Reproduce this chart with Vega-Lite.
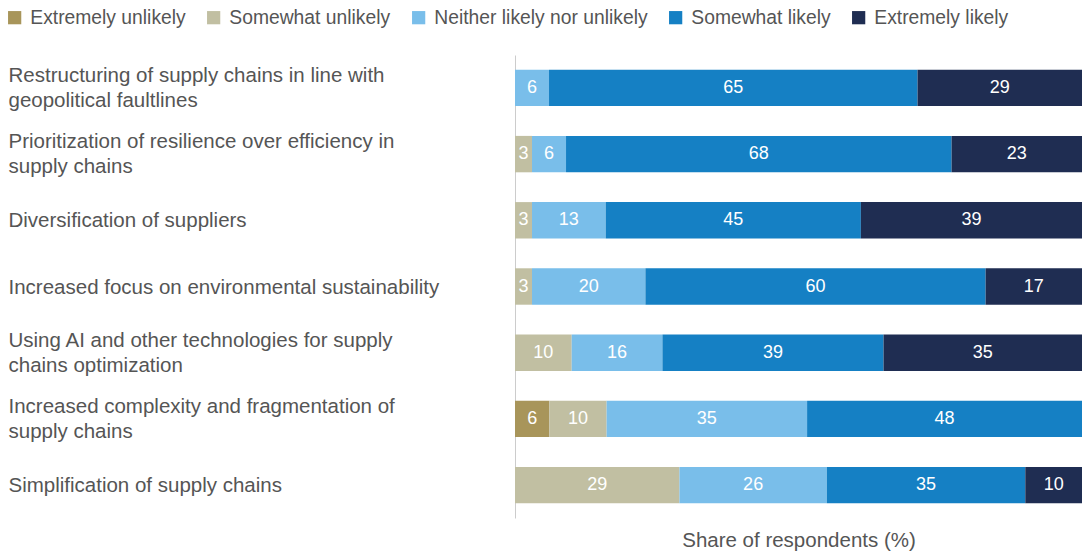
{
  "$schema": "https://vega.github.io/schema/vega-lite/v6.json",
  "width": 567,
  "height": 463,
  "autosize": {"type": "none"},
  "padding": {"left": 515, "top": 55, "right": 0, "bottom": 35},
  "background": "white",
  "config": {
    "view": {"stroke": null},
    "font": "Liberation Sans",
    "text": {"font": "Liberation Sans"}
  },
  "data": {
    "values": [
      {"item": "Restructuring of supply chains in line with|geopolitical faultlines", "response": "Neither likely nor unlikely", "k": 3, "value": 6},
      {"item": "Restructuring of supply chains in line with|geopolitical faultlines", "response": "Somewhat likely", "k": 4, "value": 65},
      {"item": "Restructuring of supply chains in line with|geopolitical faultlines", "response": "Extremely likely", "k": 5, "value": 29},
      {"item": "Prioritization of resilience over efficiency in|supply chains", "response": "Somewhat unlikely", "k": 2, "value": 3},
      {"item": "Prioritization of resilience over efficiency in|supply chains", "response": "Neither likely nor unlikely", "k": 3, "value": 6},
      {"item": "Prioritization of resilience over efficiency in|supply chains", "response": "Somewhat likely", "k": 4, "value": 68},
      {"item": "Prioritization of resilience over efficiency in|supply chains", "response": "Extremely likely", "k": 5, "value": 23},
      {"item": "Diversification of suppliers", "response": "Somewhat unlikely", "k": 2, "value": 3},
      {"item": "Diversification of suppliers", "response": "Neither likely nor unlikely", "k": 3, "value": 13},
      {"item": "Diversification of suppliers", "response": "Somewhat likely", "k": 4, "value": 45},
      {"item": "Diversification of suppliers", "response": "Extremely likely", "k": 5, "value": 39},
      {"item": "Increased focus on environmental sustainability", "response": "Somewhat unlikely", "k": 2, "value": 3},
      {"item": "Increased focus on environmental sustainability", "response": "Neither likely nor unlikely", "k": 3, "value": 20},
      {"item": "Increased focus on environmental sustainability", "response": "Somewhat likely", "k": 4, "value": 60},
      {"item": "Increased focus on environmental sustainability", "response": "Extremely likely", "k": 5, "value": 17},
      {"item": "Using AI and other technologies for supply|chains optimization", "response": "Somewhat unlikely", "k": 2, "value": 10},
      {"item": "Using AI and other technologies for supply|chains optimization", "response": "Neither likely nor unlikely", "k": 3, "value": 16},
      {"item": "Using AI and other technologies for supply|chains optimization", "response": "Somewhat likely", "k": 4, "value": 39},
      {"item": "Using AI and other technologies for supply|chains optimization", "response": "Extremely likely", "k": 5, "value": 35},
      {"item": "Increased complexity and fragmentation of|supply chains", "response": "Extremely unlikely", "k": 1, "value": 6},
      {"item": "Increased complexity and fragmentation of|supply chains", "response": "Somewhat unlikely", "k": 2, "value": 10},
      {"item": "Increased complexity and fragmentation of|supply chains", "response": "Neither likely nor unlikely", "k": 3, "value": 35},
      {"item": "Increased complexity and fragmentation of|supply chains", "response": "Somewhat likely", "k": 4, "value": 48},
      {"item": "Simplification of supply chains", "response": "Somewhat unlikely", "k": 2, "value": 29},
      {"item": "Simplification of supply chains", "response": "Neither likely nor unlikely", "k": 3, "value": 26},
      {"item": "Simplification of supply chains", "response": "Somewhat likely", "k": 4, "value": 35},
      {"item": "Simplification of supply chains", "response": "Extremely likely", "k": 5, "value": 10}
    ]
  },
  "transform": [
    {"stack": "value", "groupby": ["item"], "sort": [{"field": "k", "order": "ascending"}], "offset": "normalize", "as": ["x0", "x1"]},
    {"calculate": "(datum.x0 + datum.x1) / 2", "as": "xm"}
  ],
  "encoding": {
    "y": {
      "field": "item",
      "type": "nominal",
      "sort": null,
      "scale": {"paddingInner": 0.45, "paddingOuter": 0.222},
      "axis": {
        "title": null,
        "ticks": false,
        "domain": true,
        "domainColor": "#cccccc",
        "domainWidth": 1,
        "labelAlign": "left",
        "labelPadding": 507,
        "labelLimit": 500,
        "labelFontSize": 20.5,
        "labelColor": "#555555",
        "labelLineHeight": 25,
        "labelOffset": {"condition": {"test": "indexof(datum.value, '|') >= 0", "value": -12}, "value": 1},
        "labelExpr": "split(datum.label, '|')"
      }
    }
  },
  "layer": [
    {
      "mark": {"type": "bar"},
      "encoding": {
        "x": {
          "field": "x0",
          "type": "quantitative",
          "scale": {"domain": [0, 1], "nice": false},
          "axis": {
            "title": "Share of respondents (%)",
            "labels": false,
            "ticks": false,
            "domain": false,
            "grid": false,
            "titleFontSize": 20.5,
            "titleFontWeight": "normal",
            "titleColor": "#555555",
            "titlePadding": 12
          }
        },
        "x2": {"field": "x1"},
        "color": {
          "field": "response",
          "type": "nominal",
          "scale": {
            "domain": ["Extremely unlikely", "Somewhat unlikely", "Neither likely nor unlikely", "Somewhat likely", "Extremely likely"],
            "range": ["#a8955a", "#c1bfa2", "#79beea", "#1580c4", "#1f2d52"]
          },
          "legend": {
            "title": null,
            "orient": "none",
            "direction": "horizontal",
            "legendX": -510,
            "legendY": -47,
            "symbolType": "square",
            "symbolSize": 175,
            "symbolStrokeWidth": 0,
            "labelFontSize": 19.3,
            "labelColor": "#555555",
            "labelOffset": 6,
            "columnPadding": 18,
            "labelLimit": 400
          }
        }
      }
    },
    {
      "mark": {"type": "text", "color": "white", "fontSize": 18, "align": "center", "baseline": "middle"},
      "encoding": {
        "x": {"field": "xm", "type": "quantitative"},
        "text": {"field": "value", "type": "quantitative"}
      }
    }
  ]
}
